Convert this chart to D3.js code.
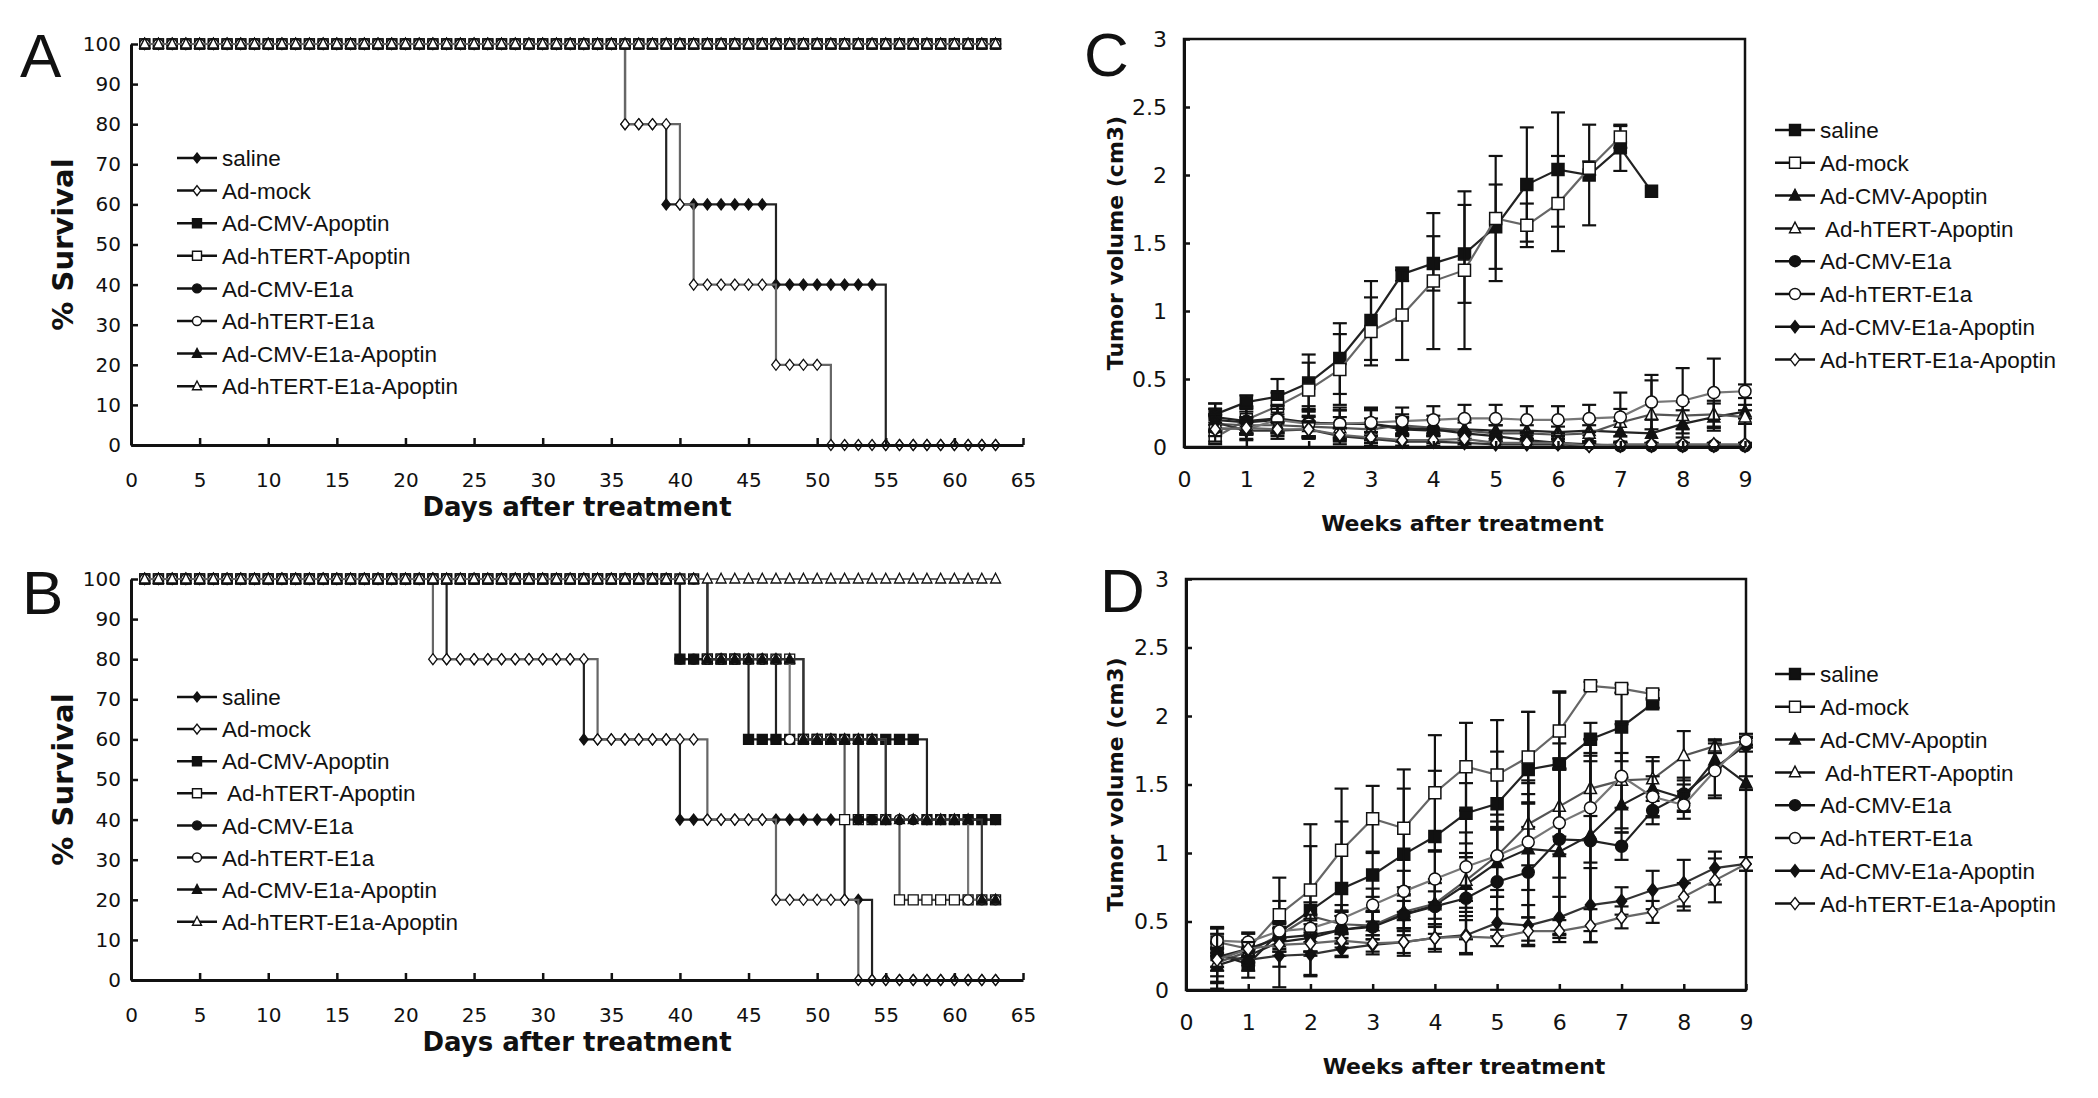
<!DOCTYPE html>
<html>
<head>
<meta charset="utf-8">
<script src="https://cdn.jsdelivr.net/npm/d3@7"></script>
<style>
  body { margin: 0; background: #fff; }
  text { font-family: "Liberation Sans", Arial, sans-serif; fill: #111; }
  .tick text { font-family: "DejaVu Sans", sans-serif; }
  .title { font-family: "DejaVu Sans", sans-serif; font-weight: bold; }
  .legend text { white-space: pre; }
</style>
</head>
<body>
<div id="fig"></div>
<script>
// treatment groups, same order in every panel
const groups = ["saline", "Ad-mock", "Ad-CMV-Apoptin", "Ad-hTERT-Apoptin",
  "Ad-CMV-E1a", "Ad-hTERT-E1a", "Ad-CMV-E1a-Apoptin", "Ad-hTERT-E1a-Apoptin"];
const legendB = ["saline", "Ad-mock", "Ad-CMV-Apoptin", " Ad-hTERT-Apoptin",
  "Ad-CMV-E1a", "Ad-hTERT-E1a", "Ad-CMV-E1a-Apoptin", "Ad-hTERT-E1a-Apoptin"];

const shapesSurv = ["diamond", "diamond", "square", "square", "circle", "circle", "triangle", "triangle"];
const shapesTumor = ["square", "square", "triangle", "triangle", "circle", "circle", "diamond", "diamond"];
const filled = [true, false, true, false, true, false, true, false];
const lineColors = ["#222", "#666", "#222", "#555", "#222", "#777", "#333", "#666"];

// survival: [day, % survival from that day on]
const lastDay = 63;
const survA_saline = [[1, 100], [36, 80], [39, 60], [47, 40], [55, 0]];
const survA_mock = [[1, 100], [36, 80], [40, 60], [41, 40], [47, 20], [51, 0]];
const survA_cmvApo = [[1, 100]];
const survA_htApo = [[1, 100]];
const survA_cmvE1a = [[1, 100]];
const survA_htE1a = [[1, 100]];
const survA_cmvE1aApo = [[1, 100]];
const survA_htE1aApo = [[1, 100]];

const survB_saline = [[1, 100], [23, 80], [33, 60], [40, 40], [52, 20], [54, 0]];
const survB_mock = [[1, 100], [22, 80], [34, 60], [42, 40], [47, 20], [53, 0]];
const survB_cmvApo = [[1, 100], [40, 80], [45, 60], [58, 40]];
const survB_htApo = [[1, 100], [42, 80], [49, 60], [52, 40], [56, 20]];
const survB_cmvE1a = [[1, 100], [40, 80], [47, 60], [53, 40]];
const survB_htE1a = [[1, 100], [42, 80], [48, 60], [55, 40], [61, 20]];
const survB_cmvE1aApo = [[1, 100], [42, 80], [49, 60], [55, 40], [62, 20]];
const survB_htE1aApo = [[1, 100]];

const dayTicks = [0, 5, 10, 15, 20, 25, 30, 35, 40, 45, 50, 55, 60, 65];
const survTicks = [0, 10, 20, 30, 40, 50, 60, 70, 80, 90, 100];

// tumour volume (cm3), mean and error per week
const weeks = [0.5, 1, 1.5, 2, 2.5, 3, 3.5, 4, 4.5, 5, 5.5, 6, 6.5, 7, 7.5, 8, 8.5, 9];
const weekTicks = [0, 1, 2, 3, 4, 5, 6, 7, 8, 9];
const volTicks = [0, 0.5, 1, 1.5, 2, 2.5, 3];

const volC_saline = [0.24, 0.33, 0.37, 0.47, 0.65, 0.93, 1.27, 1.35, 1.42, 1.62, 1.93, 2.04, 2.00, 2.20, 1.88];
const errC_saline = [0.08, 0.05, 0.13, 0.21, 0.26, 0.29, 0.05, 0.20, 0.36, 0.31, 0.42, 0.42, 0.37, 0.17, 0];
const volC_mock = [0.07, 0.20, 0.30, 0.42, 0.57, 0.85, 0.97, 1.22, 1.30, 1.68, 1.63, 1.79, 2.05, 2.28];
const errC_mock = [0.05, 0.10, 0.10, 0.20, 0.26, 0.25, 0.33, 0.50, 0.58, 0.46, 0.16, 0.35, 0.05, 0.08];
const volC_cmvApo = [0.20, 0.18, 0.20, 0.18, 0.17, 0.17, 0.13, 0.12, 0.13, 0.12, 0.12, 0.11, 0.12, 0.11, 0.10, 0.17, 0.22, 0.26];
const errC_cmvApo = [0.08, 0.08, 0.08, 0.10, 0.10, 0.10, 0.08, 0.08, 0.08, 0.08, 0.08, 0.08, 0.08, 0.08, 0.10, 0.10, 0.10, 0.05];
const volC_htApo = [0.17, 0.16, 0.16, 0.15, 0.14, 0.13, 0.16, 0.14, 0.12, 0.10, 0.10, 0.09, 0.10, 0.18, 0.24, 0.23, 0.24, 0.22];
const errC_htApo = [0.06, 0.06, 0.06, 0.08, 0.08, 0.08, 0.06, 0.06, 0.06, 0.06, 0.06, 0.06, 0.06, 0.10, 0.25, 0.10, 0.10, 0.05];
const volC_cmvE1a = [0.22, 0.19, 0.21, 0.18, 0.17, 0.17, 0.14, 0.13, 0.10, 0.08, 0.05, 0.03, 0.02, 0.01, 0.01, 0.01, 0.01, 0.01];
const errC_cmvE1a = [0.10, 0.10, 0.10, 0.12, 0.12, 0.12, 0.10, 0.10, 0.10, 0.08, 0.06, 0.05, 0.02, 0.02, 0.02, 0.02, 0.02, 0.02];
const volC_htE1a = [0.14, 0.13, 0.20, 0.17, 0.17, 0.18, 0.19, 0.20, 0.21, 0.21, 0.20, 0.20, 0.21, 0.22, 0.33, 0.34, 0.40, 0.41];
const errC_htE1a = [0.10, 0.08, 0.10, 0.10, 0.10, 0.10, 0.10, 0.10, 0.10, 0.10, 0.10, 0.10, 0.10, 0.18, 0.20, 0.24, 0.25, 0.05];
const volC_cmvE1aApo = [0.18, 0.12, 0.12, 0.13, 0.08, 0.06, 0.04, 0.04, 0.03, 0.02, 0.02, 0.02, 0.01, 0.01, 0.01, 0.01, 0.01, 0.01];
const errC_cmvE1aApo = [0.06, 0.06, 0.06, 0.06, 0.06, 0.05, 0.04, 0.04, 0.03, 0.02, 0.02, 0.02, 0.01, 0.01, 0.01, 0.01, 0.01, 0.01];
const volC_htE1aApo = [0.13, 0.14, 0.13, 0.13, 0.09, 0.07, 0.05, 0.05, 0.06, 0.03, 0.03, 0.03, 0.01, 0.02, 0.02, 0.02, 0.02, 0.02];
const errC_htE1aApo = [0.05, 0.05, 0.05, 0.05, 0.05, 0.04, 0.04, 0.04, 0.04, 0.03, 0.03, 0.03, 0.01, 0.01, 0.01, 0.01, 0.01, 0.01];

const volD_saline = [0.26, 0.19, 0.42, 0.58, 0.74, 0.84, 0.99, 1.12, 1.29, 1.36, 1.61, 1.65, 1.83, 1.92, 2.09];
const errD_saline = [0.20, 0.10, 0.40, 0.47, 0.49, 0.16, 0.48, 0.48, 0.22, 0.38, 0.42, 0.53, 0.12, 0.25, 0.03];
const volD_mock = [0.35, 0.30, 0.55, 0.73, 1.02, 1.25, 1.18, 1.44, 1.63, 1.57, 1.70, 1.89, 2.22, 2.20, 2.16];
const errD_mock = [0.10, 0.12, 0.10, 0.48, 0.45, 0.24, 0.43, 0.42, 0.32, 0.40, 0.33, 0.28, 0.03, 0.03, 0.03];
const volD_cmvApo = [0.18, 0.25, 0.35, 0.38, 0.44, 0.47, 0.55, 0.62, 0.77, 0.93, 1.03, 1.01, 1.13, 1.35, 1.47, 1.40, 1.68, 1.51];
const errD_cmvApo = [0.17, 0.05, 0.10, 0.10, 0.10, 0.10, 0.10, 0.10, 0.20, 0.25, 0.50, 0.60, 0.70, 0.20, 0.20, 0.10, 0.05, 0.05];
const volD_htApo = [0.20, 0.28, 0.40, 0.54, 0.48, 0.47, 0.57, 0.63, 0.80, 0.98, 1.21, 1.34, 1.47, 1.53, 1.54, 1.71, 1.78, 1.82];
const errD_htApo = [0.10, 0.08, 0.10, 0.10, 0.10, 0.10, 0.12, 0.15, 0.20, 0.25, 0.30, 0.35, 0.20, 0.20, 0.16, 0.18, 0.05, 0.03];
const volD_cmvE1a = [0.24, 0.30, 0.38, 0.40, 0.44, 0.46, 0.55, 0.61, 0.67, 0.79, 0.86, 1.10, 1.09, 1.05, 1.31, 1.43, 1.62, 1.79];
const errD_cmvE1a = [0.10, 0.06, 0.10, 0.12, 0.10, 0.12, 0.15, 0.20, 0.30, 0.40, 0.50, 0.70, 0.74, 0.10, 0.10, 0.12, 0.20, 0.05];
const volD_htE1a = [0.36, 0.35, 0.43, 0.45, 0.52, 0.62, 0.72, 0.81, 0.90, 0.98, 1.08, 1.22, 1.33, 1.56, 1.41, 1.35, 1.60, 1.82];
const errD_htE1a = [0.05, 0.06, 0.06, 0.10, 0.10, 0.12, 0.15, 0.20, 0.25, 0.30, 0.35, 0.40, 0.40, 0.38, 0.15, 0.10, 0.20, 0.05];
const volD_cmvE1aApo = [0.25, 0.22, 0.25, 0.26, 0.30, 0.33, 0.35, 0.38, 0.40, 0.49, 0.47, 0.53, 0.62, 0.65, 0.73, 0.78, 0.89, 0.92];
const errD_cmvE1aApo = [0.20, 0.08, 0.08, 0.16, 0.06, 0.07, 0.08, 0.08, 0.14, 0.10, 0.15, 0.15, 0.27, 0.10, 0.14, 0.17, 0.12, 0.05];
const volD_htE1aApo = [0.22, 0.30, 0.33, 0.34, 0.36, 0.34, 0.35, 0.38, 0.39, 0.38, 0.43, 0.43, 0.47, 0.53, 0.57, 0.68, 0.80, 0.92];
const errD_htE1aApo = [0.05, 0.05, 0.05, 0.06, 0.05, 0.06, 0.10, 0.10, 0.12, 0.06, 0.10, 0.08, 0.12, 0.08, 0.08, 0.10, 0.16, 0.05];

const svg = d3.select("#fig").append("svg")
  .attr("width", 2098)
  .attr("height", 1098);

// marker outline centred on 0,0
function markerPath(shape, r) {
  if (shape === "diamond") return `M0,${-r * 1.1}L${r * 0.85},0L0,${r * 1.1}L${-r * 0.85},0Z`;
  if (shape === "square") return `M${-r},${-r}h${2 * r}v${2 * r}h${-2 * r}Z`;
  if (shape === "triangle") return `M0,${-r * 1.15}L${r},${r * 0.8}L${-r},${r * 0.8}Z`;
  return d3.symbol(d3.symbolCircle, Math.PI * r * r)();
}

function styleAxis(g, fontSize) {
  g.select(".domain").attr("stroke", "#111").attr("stroke-width", 3);
  g.selectAll(".tick line").attr("stroke", "#111").attr("stroke-width", 2.5);
  g.selectAll(".tick text").attr("font-size", fontSize).attr("fill", "#111");
}

function drawLegend(labels, shapes, x0, top, gap, r) {
  const lg = svg.append("g").attr("class", "legend");
  labels.forEach((name, i) => {
    const yy = top + i * gap;
    lg.append("line").attr("x1", x0).attr("x2", x0 + 40).attr("y1", yy).attr("y2", yy)
      .attr("stroke", "#111").attr("stroke-width", 2.5);
    lg.append("path").attr("transform", `translate(${x0 + 20},${yy})`)
      .attr("d", markerPath(shapes[i], r))
      .attr("fill", filled[i] ? "#111" : "#fff").attr("stroke", "#111").attr("stroke-width", 1.4);
    lg.append("text").attr("x", x0 + 45).attr("y", yy).attr("dy", "0.36em")
      .attr("font-size", 22.5).text(name);
  });
}

function panelLetter(letter, x, y) {
  svg.append("text").attr("x", x).attr("y", y).attr("font-size", 62).text(letter);
}

function valueAt(drops, day) {
  let v = drops[0][1];
  drops.forEach(([d, s]) => { if (d <= day) v = s; });
  return v;
}

function drawSurvival(series, y0, y1, legendLabels, legendTop, legendGap) {
  const x = d3.scaleLinear().domain([0, 65]).range([131, 1023]);
  const y = d3.scaleLinear().domain([0, 100]).range([y0, y1]);
  const days = d3.range(1, lastDay + 1);

  series.forEach((drops, i) => {
    const pts = days.map(d => [d, valueAt(drops, d)]);
    svg.append("path").datum(pts)
      .attr("d", d3.line().x(d => x(d[0])).y(d => y(d[1])).curve(d3.curveStepAfter))
      .attr("fill", "none").attr("stroke", lineColors[i]).attr("stroke-width", 2.2);
    svg.append("g").selectAll("path").data(pts).join("path")
      .attr("transform", d => `translate(${x(d[0])},${y(d[1])})`)
      .attr("d", markerPath(shapesSurv[i], 5))
      .attr("fill", filled[i] ? "#111" : "#fff")
      .attr("stroke", "#111").attr("stroke-width", 1.3);
  });

  svg.append("g").attr("transform", `translate(0,${y0})`)
    .call(d3.axisBottom(x).tickValues(dayTicks).tickSize(-7).tickSizeOuter(0).tickPadding(28))
    .call(g => styleAxis(g, 20));
  svg.append("g").attr("transform", "translate(131,0)")
    .call(d3.axisLeft(y).tickValues(survTicks).tickSize(-7).tickSizeOuter(0).tickPadding(10))
    .call(g => styleAxis(g, 20));

  svg.append("text").attr("class", "title").attr("x", 577).attr("y", y0 + 71)
    .attr("text-anchor", "middle").attr("font-size", 26).text("Days after treatment");
  svg.append("text").attr("class", "title")
    .attr("transform", `translate(63,${(y0 + y1) / 2}) rotate(-90)`)
    .attr("dy", "0.36em").attr("text-anchor", "middle").attr("font-size", 29).text("% Survival");

  drawLegend(legendLabels, shapesSurv, 177, legendTop, legendGap, 4.5);
}

function drawTumor(vals, errs, xl, xr, y0, y1, legendTop) {
  const x = d3.scaleLinear().domain([0, 9]).range([xl, xr]);
  const y = d3.scaleLinear().domain([0, 3]).range([y0, y1]);

  svg.append("rect").attr("x", xl).attr("y", y1).attr("width", xr - xl).attr("height", y0 - y1)
    .attr("fill", "none").attr("stroke", "#111").attr("stroke-width", 2.5);

  vals.forEach((v, i) => {
    const pts = v.map((val, j) => ({ w: weeks[j], v: val, e: errs[i][j] }));
    const eb = svg.append("g").attr("stroke", "#111").attr("stroke-width", 2.2);
    pts.filter(p => p.e > 0).forEach(p => {
      const lo = y(Math.max(0, p.v - p.e)), hi = y(p.v + p.e), cx = x(p.w);
      eb.append("line").attr("x1", cx).attr("x2", cx).attr("y1", lo).attr("y2", hi);
      eb.append("line").attr("x1", cx - 7).attr("x2", cx + 7).attr("y1", lo).attr("y2", lo);
      eb.append("line").attr("x1", cx - 7).attr("x2", cx + 7).attr("y1", hi).attr("y2", hi);
    });
    svg.append("path").datum(pts)
      .attr("d", d3.line().x(d => x(d.w)).y(d => y(d.v)))
      .attr("fill", "none").attr("stroke", lineColors[i]).attr("stroke-width", 2.2);
    svg.append("g").selectAll("path").data(pts).join("path")
      .attr("transform", d => `translate(${x(d.w)},${y(d.v)})`)
      .attr("d", markerPath(shapesTumor[i], 6))
      .attr("fill", filled[i] ? "#111" : "#fff")
      .attr("stroke", "#111").attr("stroke-width", 1.5);
  });

  svg.append("g").attr("transform", `translate(0,${y0})`)
    .call(d3.axisBottom(x).tickValues(weekTicks).tickSize(-6).tickSizeOuter(0).tickPadding(24))
    .call(g => styleAxis(g, 22));
  svg.append("g").attr("transform", `translate(${xl},0)`)
    .call(d3.axisLeft(y).tickValues(volTicks).tickFormat(d => String(d)).tickSize(-6).tickSizeOuter(0).tickPadding(17))
    .call(g => styleAxis(g, 22));

  svg.append("text").attr("class", "title").attr("x", (xl + xr) / 2 - 2).attr("y", y0 + 84)
    .attr("text-anchor", "middle").attr("font-size", 22).text("Weeks after treatment");
  svg.append("text").attr("class", "title")
    .attr("transform", `translate(1115,${(y0 + y1) / 2}) rotate(-90)`)
    .attr("dy", "0.36em").attr("text-anchor", "middle").attr("font-size", 22).text("Tumor volume (cm3)");

  drawLegend(legendB, shapesTumor, 1775, legendTop, 32.8, 5.5);
}

drawSurvival([survA_saline, survA_mock, survA_cmvApo, survA_htApo, survA_cmvE1a, survA_htE1a, survA_cmvE1aApo, survA_htE1aApo],
  445, 44, groups, 158, 32.6);
drawSurvival([survB_saline, survB_mock, survB_cmvApo, survB_htApo, survB_cmvE1a, survB_htE1a, survB_cmvE1aApo, survB_htE1aApo],
  980, 579, legendB, 697, 32.1);

drawTumor([volC_saline, volC_mock, volC_cmvApo, volC_htApo, volC_cmvE1a, volC_htE1a, volC_cmvE1aApo, volC_htE1aApo],
  [errC_saline, errC_mock, errC_cmvApo, errC_htApo, errC_cmvE1a, errC_htE1a, errC_cmvE1aApo, errC_htE1aApo],
  1184, 1745, 447, 39, 130);
drawTumor([volD_saline, volD_mock, volD_cmvApo, volD_htApo, volD_cmvE1a, volD_htE1a, volD_cmvE1aApo, volD_htE1aApo],
  [errD_saline, errD_mock, errD_cmvApo, errD_htApo, errD_cmvE1a, errD_htE1a, errD_cmvE1aApo, errD_htE1aApo],
  1186, 1746, 990, 579, 674);

panelLetter("A", 20, 77);
panelLetter("B", 22, 614);
panelLetter("C", 1084, 76);
panelLetter("D", 1100, 612);
</script>
</body>
</html>
